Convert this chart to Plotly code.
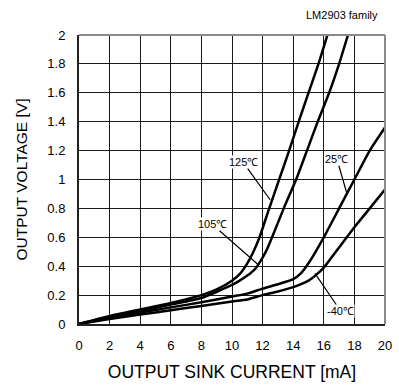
import plotly.graph_objects as go

# Output voltage vs. output sink current, LM2903 family
curve_labels = ["125℃", "105℃", "25℃", "-40℃"]

i_125 = [0, 2, 4, 6, 8, 9, 10, 10.5, 11, 11.4, 11.8, 12.4, 13.05, 13.7, 14.36, 15.0, 15.65, 16.24]
v_125 = [0, 0.055, 0.1, 0.145, 0.2, 0.24, 0.3, 0.345, 0.42, 0.5, 0.6, 0.79, 0.99, 1.19, 1.4, 1.6, 1.8, 2.0]

i_105 = [0, 2, 4, 6, 8, 10, 10.5, 11, 11.5, 12, 12.3, 12.62, 13.38, 14.19, 14.9, 15.6, 16.35, 17.0, 17.58]
v_105 = [0, 0.05, 0.09, 0.135, 0.18, 0.27, 0.3, 0.335, 0.38, 0.46, 0.52, 0.6, 0.8, 1.0, 1.2, 1.4, 1.6, 1.8, 2.0]

i_25 = [0, 2, 4, 6, 8, 10, 11, 12, 13, 14, 14.5, 15, 16, 17, 18, 19, 20]
v_25 = [0, 0.045, 0.08, 0.115, 0.15, 0.19, 0.21, 0.245, 0.275, 0.31, 0.35, 0.42, 0.6, 0.8, 1.0, 1.2, 1.36]

i_m40 = [0, 2, 4, 6, 8, 10, 11, 12, 13, 14, 15, 15.5, 16, 17, 17.5, 18, 19, 20]
v_m40 = [0, 0.035, 0.065, 0.095, 0.125, 0.155, 0.17, 0.2, 0.225, 0.255, 0.3, 0.34, 0.39, 0.53, 0.6, 0.67, 0.8, 0.93]

x_ticks = [0, 2, 4, 6, 8, 10, 12, 14, 16, 18, 20]
y_ticks = [0, 0.2, 0.4, 0.6, 0.8, 1.0, 1.2, 1.4, 1.6, 1.8, 2.0]
y_tick_text = ["0", "0.2", "0.4", "0.6", "0.8", "1", "1.2", "1.4", "1.6", "1.8", "2"]

# label text position (x, y) and leader end point on the curve
label_pos = [(10.72, 1.12), (8.70, 0.69), (16.86, 1.14), (17.10, 0.09)]
label_tip = [(12.49, 0.86), (11.72, 0.41), (17.49, 0.91), (15.42, 0.35)]

FONT = "Liberation Sans, Arial, sans-serif"

fig = go.Figure()
for xs, ys in [(i_125, v_125), (i_105, v_105), (i_25, v_25), (i_m40, v_m40)]:
    fig.add_trace(go.Scatter(
        x=xs, y=ys, mode="lines",
        line=dict(color="black", width=2.5, shape="spline", smoothing=0.5),
        showlegend=False, hoverinfo="skip",
    ))

annotations = []
for text, (tx, ty), (px, py) in zip(curve_labels, label_pos, label_tip):
    annotations.append(dict(
        x=px, y=py, ax=tx, ay=ty, xref="x", yref="y", axref="x", ayref="y",
        text=text, showarrow=True, arrowhead=0, arrowwidth=1.2, arrowcolor="black",
        font=dict(family=FONT, size=11, color="black"),
        bgcolor="white", borderpad=0, standoff=0,
    ))
annotations.append(dict(
    x=0.984, y=1.069, xref="paper", yref="paper", xanchor="right", yanchor="middle",
    text="LM2903 family", showarrow=False,
    font=dict(family=FONT, size=11, color="black"),
))

fig.update_layout(
    width=399, height=385,
    margin=dict(l=79, r=14, t=35, b=61),
    paper_bgcolor="white", plot_bgcolor="white",
    font=dict(family=FONT, color="black"),
    annotations=annotations,
    shapes=[
        dict(type="line", xref="x domain", yref="y domain", x0=0, x1=1, y0=1, y1=1,
             line=dict(color="#8a8a8a", width=2)),
        dict(type="line", xref="x domain", yref="y domain", x0=1, x1=1, y0=0, y1=1,
             line=dict(color="#8a8a8a", width=2)),
    ],
    xaxis=dict(
        range=[0, 20], tickvals=x_ticks, ticks="", showgrid=True,
        gridcolor="#1a1a1a", gridwidth=1, zeroline=False,
        showline=True, linecolor="#222222", linewidth=2, automargin=False,
        tickfont=dict(family=FONT, size=13), ticklabelstandoff=8,
        title=dict(text="OUTPUT SINK CURRENT [mA]", font=dict(family=FONT, size=17.5), standoff=14),
    ),
    yaxis=dict(
        range=[0, 2], tickvals=y_ticks, ticktext=y_tick_text, ticks="", showgrid=True,
        gridcolor="#1a1a1a", gridwidth=1, zeroline=False,
        showline=True, linecolor="#222222", linewidth=2, automargin=False,
        tickfont=dict(family=FONT, size=13), ticklabelstandoff=9,
        title=dict(text="OUTPUT VOLTAGE [V]", font=dict(family=FONT, size=15.5), standoff=16),
    ),
)

fig.write_html("out.html")
